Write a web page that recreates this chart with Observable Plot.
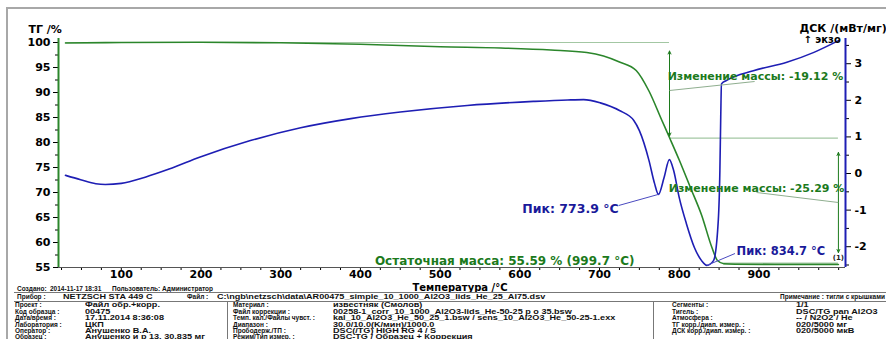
<!DOCTYPE html>
<html><head><meta charset="utf-8">
<script src="https://cdn.jsdelivr.net/npm/d3@7"></script>
<script src="https://cdn.jsdelivr.net/npm/@observablehq/plot@0.6"></script>
<style>
html,body{margin:0;padding:0;background:#fff;overflow:hidden;width:886px;height:339px}
#wrap{position:relative;width:886px;height:339px;overflow:hidden}
#chart{position:absolute;left:0;top:0}
.ln{position:absolute;background:#a8a8a8}
.t{position:absolute;font-family:"Liberation Sans",Arial,sans-serif;font-weight:bold;white-space:nowrap;color:#111;transform-origin:0 50%}
.lab{font-size:6.5px;line-height:7px}
.val{font-size:7px;line-height:7px;transform:scaleX(1.3)}
</style></head><body>
<div id="wrap">
  <div id="chart"></div>
  <div class="ln" style="left:6px;top:7px;width:880px;height:2px"></div>
  <div class="ln" style="left:6px;top:7px;width:2px;height:332px"></div>
  <div id="table"></div>
</div>
<script>
// ---------- data ----------
const tempTG = [30, 100, 200, 300, 400, 500, 576, 639, 684, 705, 725, 746, 762, 778, 788, 800, 814, 828, 841, 848, 856, 870, 920, 999.7];
const massTG = [99.9, 100.0, 100.05, 99.95, 99.65, 99.15, 98.9, 98.5, 98.0, 97.3, 96.1, 94.4, 90.3, 84.5, 80.9, 76.5, 71.0, 65.5, 59.0, 56.4, 55.75, 55.65, 55.6, 55.59];
const tempDSC = [30, 49, 68, 80, 100, 130, 160, 199, 262, 325, 388, 450, 534, 617, 660, 680, 701, 725, 743, 750, 762, 769, 773.9, 781, 787.6, 793, 800, 809, 819, 828, 834.7, 843, 849, 851, 852, 853, 859, 893, 935, 969, 999.7];
const dscVal = [-0.05, -0.17, -0.28, -0.3, -0.27, -0.1, 0.12, 0.45, 0.9, 1.25, 1.5, 1.68, 1.86, 1.97, 2.01, 2.02, 1.93, 1.72, 1.45, 1.17, 0.36, -0.27, -0.57, -0.11, 0.38, 0.08, -0.66, -1.37, -2.02, -2.38, -2.51, -2.38, -1.28, 0.08, 1.45, 2.45, 2.54, 2.81, 3.04, 3.31, 3.63];

const tgTicks = [55, 60, 65, 70, 75, 80, 85, 90, 95, 100];
const tgMinor = [57.5, 62.5, 67.5, 72.5, 77.5, 82.5, 87.5, 92.5, 97.5];
const dscTicks = [-2, -1, 0, 1, 2, 3];
const dscMinor = [-2.5, -1.5, -0.5, 0.5, 1.5, 2.5, 3.5];
const xTicks = [100, 200, 300, 400, 500, 600, 700, 800, 900];
const xMinor = [25, 50, 75, 125, 150, 175, 225, 250, 275, 325, 350, 375, 425, 450, 475, 525, 550, 575, 625, 650, 675, 725, 750, 775, 825, 850, 875, 925, 950, 975, 1000];

// annotations
const stepTemps = [787.8, 999.7];          // where mass steps are marked
const stepLevels = [100, 80.88, 55.59];    // TG levels
const massChanges = [-19.12, -25.29];
const residualMass = 55.59, residualTemp = 999.7;
const peakTemps = [773.9, 834.7];
const peakDSC = [-0.57, -2.51];

// ---------- scales ----------
const xDom = [21.2, 1008.6];
const yDom = [55, 100.8];
const dscDom = [-2.568, 3.689];
const toL = d => yDom[0] + (d - dscDom[0]) * (yDom[1] - yDom[0]) / (dscDom[1] - dscDom[0]);
const fromL = v => dscDom[0] + (v - yDom[0]) * (dscDom[1] - dscDom[0]) / (yDom[1] - yDom[0]);

const tg = tempTG.map((t, i) => ({t, v: massTG[i]}));
const ds = tempDSC.map((t, i) => ({t, v: toL(dscVal[i])}));

const green = "#2b862b", blue = "#1e1eb4", txtGreen = "#1c7a1c", txtBlue = "#1a1a9a", light = "#a3c7a3";
const arrowOpt = {x1: "x1", y1: "y1", x2: "x2", y2: "y2", stroke: txtGreen, strokeWidth: 1, headLength: 5, headAngle: 50};

const a1mid = (98.3 + 81.3) / 2, a2mid = (78 + 58) / 2;
const arrows = [
  {x1: stepTemps[0], y1: a1mid, x2: stepTemps[0], y2: 98.3},
  {x1: stepTemps[0], y1: a1mid, x2: stepTemps[0], y2: 81.3},
  {x1: stepTemps[1], y1: a2mid, x2: stepTemps[1], y2: 78},
  {x1: stepTemps[1], y1: a2mid, x2: stepTemps[1], y2: 58}
];

const chart = Plot.plot({
  width: 886, height: 290,
  marginLeft: 58, marginRight: 41, marginTop: 38, marginBottom: 23,
  x: {domain: xDom, label: null},
  y: {domain: yDom, label: null},
  style: "font-family:'DejaVu Sans',sans-serif;font-size:11px;font-weight:bold;background:transparent;overflow:visible;",
  marks: [
    // reference lines
    Plot.ruleY([{y: stepLevels[0], a: tempTG[0], b: stepTemps[0]}], {y: "y", x1: "a", x2: "b", stroke: light, strokeWidth: 1.2}),
    Plot.ruleY([{y: stepLevels[1], a: stepTemps[0], b: stepTemps[1]}], {y: "y", x1: "a", x2: "b", stroke: light, strokeWidth: 1.2}),
    Plot.ruleY([{y: stepLevels[2] + 0.2, a: 856, b: stepTemps[1]}], {y: "y", x1: "a", x2: "b", stroke: light, strokeWidth: 2}),
    // axes
    Plot.axisX(xMinor, {tickSize: 3, tickFormat: () => "", label: null}),
    Plot.axisX(xTicks, {tickSize: 3, tickPadding: 0, label: null}),
    Plot.axisY(tgMinor, {anchor: "left", tickSize: 3, tickFormat: () => "", label: null}),
    Plot.axisY(tgTicks, {anchor: "left", tickSize: 5, tickPadding: 3, label: null}),
    Plot.axisY(dscMinor.map(toL), {anchor: "right", tickSize: 3, tickFormat: () => "", label: null}),
    Plot.axisY(dscTicks.map(toL), {anchor: "right", tickSize: 5, tickPadding: 4, label: null,
      tickFormat: v => String(Math.round(fromL(v)))}),
    Plot.ruleY([yDom[0]], {stroke: "#555", strokeWidth: 1.2}),
    Plot.ruleX([xDom[0]], {stroke: green, strokeWidth: 2}),
    Plot.ruleX([xDom[1]], {stroke: blue, strokeWidth: 2}),
    // curves
    Plot.line(tg, {x: "t", y: "v", stroke: green, strokeWidth: 1.6, curve: "monotone-x"}),
    Plot.line(ds, {x: "t", y: "v", stroke: blue, strokeWidth: 1.6, curve: "monotone-x"}),
    // arrows
    Plot.arrow(arrows, arrowOpt),
    // leader lines
    Plot.link([{x1: stepTemps[0], y1: 90.4, x2: 894.6, y2: 92.2}, {x1: 897, y1: 70, x2: stepTemps[1], y2: 68}],
      {x1: "x1", y1: "y1", x2: "x2", y2: "y2", stroke: "#8fae8f", strokeWidth: 1}),
    Plot.link([{x1: 724, y1: 67.4, x2: peakTemps[0], y2: toL(peakDSC[0])}, {x1: peakTemps[1], y1: toL(peakDSC[1]), x2: 870, y2: 57.8}],
      {x1: "x1", y1: "y1", x2: "x2", y2: "y2", stroke: "#4a4ac0", strokeWidth: 1}),
    // annotation texts
    Plot.text([`Изменение массы: ${massChanges[0].toFixed(2)} %`], {x: 895.6, y: 93.2, text: d => d, fill: txtGreen, fontSize: 11}),
    Plot.text([`Изменение массы: ${massChanges[1].toFixed(2)} %`], {x: 897, y: 70.8, text: d => d, fill: txtGreen, fontSize: 11}),
    Plot.text([`Остаточная масса: ${residualMass.toFixed(2)} % (${residualTemp} °C)`], {x: 581, y: 56.3, text: d => d, fill: txtGreen, fontSize: 12}),
    Plot.text([`Пик: ${peakTemps[0]} °C`], {x: 724, y: 66.8, text: d => d, fill: txtBlue, textAnchor: "end", fontSize: 12.5}),
    Plot.text([`Пик: ${peakTemps[1]} °C`], {x: 872, y: 58.2, text: d => d, fill: txtBlue, textAnchor: "start", fontSize: 11.5}),
    Plot.text(["(1)"], {x: stepTemps[1], y: 57, text: d => d, fill: "#222", fontSize: 7}),
    // axis titles
    Plot.text(["ТГ /%"], {frameAnchor: "top-left", dx: -30, dy: -13, text: d => d, textAnchor: "start", fontSize: 11}),
    Plot.text(["ДСК /(мВт/мг)"], {frameAnchor: "top-right", dx: -46, dy: -14, text: d => d, textAnchor: "start", fontSize: 11}),
    Plot.text(["↑ экзо"], {frameAnchor: "top-right", dx: -42, dy: -3, text: d => d, textAnchor: "start", fontSize: 10}),
    Plot.text(["Температура /°C"], {frameAnchor: "bottom", dx: 8, dy: 23.5, text: d => d, fontSize: 10})
  ]
});
document.getElementById("chart").append(chart);

// ---------- info table (text below the chart) ----------
const infoRow1 = [["Создано:", 17, "lab"], ["2014-11-17 18:31", 50, "lab"], ["Пользователь: Администратор", 112, "lab"]];
const infoRow2 = [["Прибор :", 17, "lab"], ["NETZSCH STA 449 C", 63, "val"], ["Файл :", 187, "lab"], ["C:\\ngb\\netzsch\\data\\AR00475_simple_10_1000_Al2O3_lids_He_25_Al75.dsv", 217, "val"], ["Примечание :", 780, "lab"], ["тигли с крышками", 826, "lab"]];
const leftLabels = ["Проект :", "Код образца :", "Дата/время :", "Лаборатория :", "Оператор :", "Образец :"];
const leftValues = ["Файл обр.+корр.", "00475", "17.11.2014 8:36:08", "ЦКП", "Анушенко В.А.", "Анушенко и р 13, 30.835 мг"];
const midLabels = ["Материал :", "Файл коррекции :", "Темп. кал./Файлы чувст. :", "Диапазон :", "Прободерж./ТП :", "Режим/Тип измер. :"];
const midValues = ["известняк (Смолов)", "00258-1_corr_10_1000_Al2O3-lids_He-50-25 p o 35.bsw", "kal_10_Al2O3_He_50_25_1.bsw / sens_10_Al2O3_He_50-25-1.exx", "30.0/10.0(K/мин)/1000.0", "DSC(/TG) HIGH RG 4 / S", "DSC-TG / Образец + Коррекция"];
const rightLabels = ["Сегменты :", "Тигель :", "Атмосфера :", "ТГ корр./диап. измер. :", "ДСК корр./диап. измер. :"];
const rightValues = ["1/1", "DSC/TG pan Al2O3", "-- / N2O2 / He", "020/5000 мг", "020/5000 мкВ"];
const rowY = [304.5, 311, 317.5, 324, 330.5, 336];

const tbl = document.getElementById("table");
function put(s, x, y, cls) {
  const d = document.createElement("div");
  d.className = "t " + cls; d.textContent = s;
  d.style.left = x + "px"; d.style.top = (y - 3.5) + "px";
  tbl.append(d);
}
function line(x, y, w, h) {
  const d = document.createElement("div");
  d.className = "ln"; d.style.left = x + "px"; d.style.top = y + "px";
  d.style.width = w + "px"; d.style.height = h + "px"; d.style.background = "#777";
  tbl.append(d);
}
infoRow1.forEach(([s, x, c]) => put(s, x, 288, c));
infoRow2.forEach(([s, x, c]) => put(s, x, 296.5, c));
line(14, 292, 872, 1); line(14, 301, 872, 1);
line(227, 301, 1, 38); line(653, 301, 1, 38);
leftLabels.forEach((s, i) => put(s, 15, rowY[i], "lab"));
leftValues.forEach((s, i) => put(s, 85, rowY[i], "val"));
midLabels.forEach((s, i) => put(s, 233, rowY[i], "lab"));
midValues.forEach((s, i) => put(s, 333, rowY[i], "val"));
rightLabels.forEach((s, i) => put(s, 672, rowY[i], "lab"));
rightValues.forEach((s, i) => put(s, 796, rowY[i], "val"));
</script>
</body></html>
